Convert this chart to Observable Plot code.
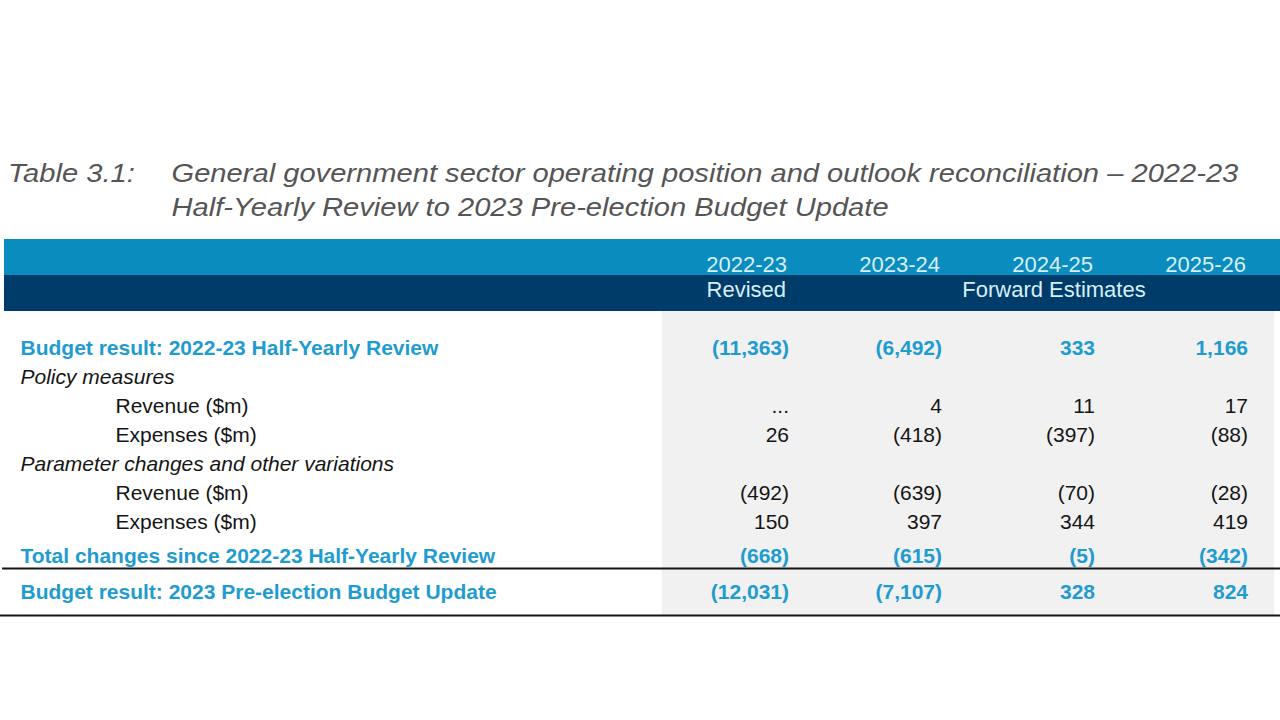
<!DOCTYPE html>
<html>
<head>
<meta charset="utf-8">
<script src="https://cdn.jsdelivr.net/npm/d3@7"></script>
<script src="https://cdn.jsdelivr.net/npm/@observablehq/plot@0.6"></script>
<style>
  html, body { margin: 0; padding: 0; background: #fff; width: 1280px; height: 720px; overflow: hidden;
    font-family: "Liberation Sans", Arial, sans-serif; }
  #title { position: absolute; left: 8px; top: 156px; color: #555; font-style: italic; font-size: 26px; line-height: 34px;
    transform: scaleX(1.12); transform-origin: 0 0; }
  #title .line { display: flex; white-space: nowrap; }
  #title .num { width: 146px; flex: none; }
  #chart { position: absolute; left: 0; top: 238px; width: 1280px; }
  #chart svg { display: block; }
</style>
</head>
<body>
<div id="title">
  <div class="line"><span class="num">Table 3.1:</span><span>General government sector operating position and outlook reconciliation – 2022-23</span></div>
  <div class="line"><span class="num"></span><span>Half-Yearly Review to 2023 Pre-election Budget Update</span></div>
</div>
<div id="chart"></div>
<script>
// ---- data ----
const years = ["2022-23", "2023-24", "2024-25", "2025-26"];
const periodLabels = ["Revised", "Forward Estimates"];
const periodColumns = ["2022-23", "2024-25"];
const rowLabels = [
  "Budget result: 2022-23 Half-Yearly Review",
  "Policy measures",
  "Revenue ($m)",
  "Expenses ($m)",
  "Parameter changes and other variations",
  "Revenue ($m)",
  "Expenses ($m)",
  "Total changes since 2022-23 Half-Yearly Review",
  "Budget result: 2023 Pre-election Budget Update"
];
const rowTypes = ["total", "heading", "item", "item", "heading", "item", "item", "total", "total"];
const values2022_23 = [-11363, null, "...", 26, null, -492, 150, -668, -12031];
const values2023_24 = [-6492, null, 4, -418, null, -639, 397, -615, -7107];
const values2024_25 = [333, null, 11, -397, null, -70, 344, -5, 328];
const values2025_26 = [1166, null, 17, -88, null, -28, 419, -342, 824];
const valueColumns = [values2022_23, values2023_24, values2024_25, values2025_26];

// ---- styles ----
const FONT = "Liberation Sans, Arial, sans-serif";
const LIGHT = "#0a8cbe", DARK = "#003c69", BLUE = "#1f9ccf", INK = "#151515", GREY = "#f1f1f1", HEAD = "#d6eff9";
const fmt = d3.format(",");
const show = v => typeof v === "number" ? (v < 0 ? `(${fmt(-v)})` : fmt(v)) : v;

const rows = rowLabels.map((label, i) => ({row: i, label, type: rowTypes[i]}));
const cells = rows.flatMap(r => years.map((year, j) => ({row: r.row, type: r.type, year, value: valueColumns[j][r.row]})))
  .filter(d => d.value != null);

// ---- header ----
const header = Plot.plot({
  width: 1280, height: 73,
  marginLeft: 4, marginRight: 0, marginTop: 0, marginBottom: 0,
  style: {fontFamily: FONT, background: "transparent"},
  x: {type: "band", domain: years, range: [660, 1275], padding: 0, axis: null},
  y: {type: "band", domain: ["years", "periods"], range: [0, 73], padding: 0, axis: null},
  marks: [
    Plot.cell(["years"], {y: d => d, fill: LIGHT}),
    Plot.cell(["periods"], {y: d => d, fill: DARK}),
    Plot.text(years, {x: d => d, y: () => "years", text: d => d, textAnchor: "end", dx: 48, dy: 7, fill: HEAD, fontSize: 22}),
    Plot.text(periodLabels.slice(0, 1), {x: () => periodColumns[0], y: () => "periods", text: d => d, textAnchor: "end", dx: 47, dy: -4, fill: HEAD, fontSize: 22}),
    Plot.text(periodLabels.slice(1), {x: () => periodColumns[1], y: () => "periods", text: d => d, textAnchor: "middle", dx: 9, dy: -4, fill: HEAD, fontSize: 22})
  ]
});

// ---- body ----
const blocks = [{rows: [0, 1, 2, 3, 4, 5, 6], dy: 0}, {rows: [7], dy: 5}, {rows: [8], dy: 12}];
const typeStyle = {
  total:   {fill: BLUE, fontWeight: "bold", fontStyle: "normal", dx: 20},
  heading: {fill: INK, fontWeight: "normal", fontStyle: "italic", dx: 20},
  item:    {fill: INK, fontWeight: "normal", fontStyle: "normal", dx: 115}
};
const textMarks = [];
for (const b of blocks) {
  for (const t of Object.keys(typeStyle)) {
    const s = typeStyle[t];
    const rs = rows.filter(r => r.type === t && b.rows.includes(r.row));
    const cs = cells.filter(c => c.type === t && b.rows.includes(c.row));
    if (rs.length) textMarks.push(Plot.text(rs, {y: "row", text: "label", frameAnchor: "left", textAnchor: "start",
      dx: s.dx, dy: b.dy, fill: s.fill, fontWeight: s.fontWeight, fontStyle: s.fontStyle, fontSize: 21}));
    if (cs.length) textMarks.push(Plot.text(cs, {x: "year", y: "row", text: d => show(d.value), textAnchor: "end",
      dx: 50, dy: b.dy, fill: s.fill, fontWeight: t === "total" ? "bold" : "normal", fontSize: 21}));
  }
}

const body = Plot.plot({
  width: 1280, height: 309,
  marginLeft: 0, marginRight: 0, marginTop: 0, marginBottom: 5,
  style: {fontFamily: FONT, background: "transparent"},
  x: {type: "band", domain: years, range: [660, 1275], padding: 0, axis: null},
  y: {type: "point", domain: d3.range(rowLabels.length), range: [36, 36 + 8 * 29.3], padding: 0, axis: null},
  marks: [
    Plot.cell(years, {x: d => d, fill: GREY, shapeRendering: "crispEdges"}),
    ...textMarks,
    Plot.ruleY([7], {y: d => d, dy: 17, stroke: INK, strokeWidth: 2, insetLeft: 2}),
    Plot.frame({anchor: "bottom", stroke: INK, strokeWidth: 2})
  ]
});

document.getElementById("chart").append(header, body);
</script>
</body>
</html>
